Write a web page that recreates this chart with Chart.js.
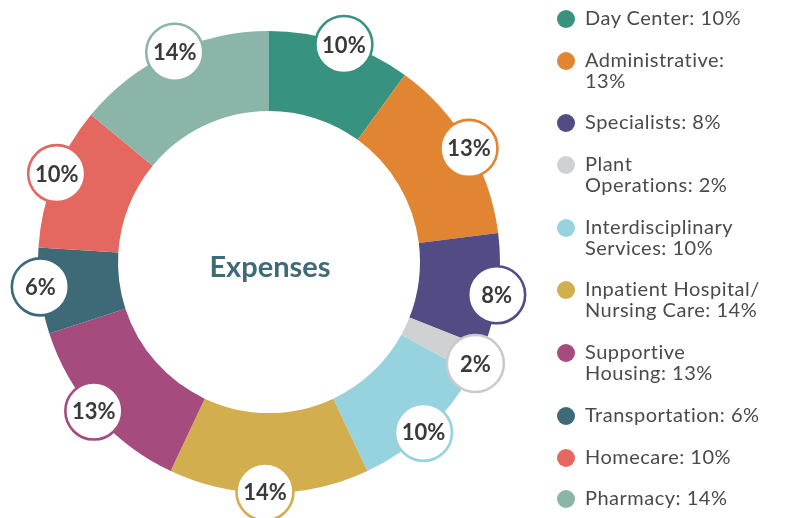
<!DOCTYPE html>
<html>
<head>
<meta charset="utf-8">
<script src="https://cdn.jsdelivr.net/npm/chart.js@4.4.1/dist/chart.umd.min.js"></script>
<style>
html,body{margin:0;padding:0;background:#fff;}
#wrap{position:relative;width:807px;height:518px;overflow:hidden;background:#fff;}
#c{position:absolute;left:0;top:0;}
#legend{position:absolute;left:556px;top:7px;font-family:Lato,"Noto Sans",sans-serif;font-size:20px;letter-spacing:0.5px;color:#4a4a4a;}
.item{position:relative;margin-bottom:20.7px;}
.dot{position:absolute;left:0.7px;top:3px;width:18px;height:18px;border-radius:50%;}
.txt{margin-left:29px;line-height:21px;white-space:pre;}
</style>
</head>
<body>
<div id="wrap">
<canvas id="c" width="807" height="518"></canvas>
<div id="legend"></div>
</div>
<script>
// ---- data ----
const categories = ["Day Center","Administrative","Specialists","Plant Operations","Interdisciplinary Services","Inpatient Hospital/Nursing Care","Supportive Housing","Transportation","Homecare","Pharmacy"];
const values = [10,13,8,2,10,14,13,6,10,14];
const colors = ["#37937f","#e18533","#534c84","#d0d1d3","#97d3de","#d3ae4e","#a54b7e","#3d6a76","#e4685f","#8cb5a9"];
const labelBorderColors = ["#37937f","#e18533","#534c84","#c9cacc","#97d3de","#d3ae4e","#a54b7e","#3d6a76","#e4685f","#8cb5a9"];
const legendTemplates = ["Day Center: {v}%","Administrative:\n{v}%","Specialists: {v}%","Plant\nOperations: {v}%","Interdisciplinary\nServices: {v}%","Inpatient Hospital/\nNursing Care: {v}%","Supportive\nHousing: {v}%","Transportation: {v}%","Homecare: {v}%","Pharmacy: {v}%"];
const centerTitle = "Expenses";

// ---- legend (HTML, built from the arrays) ----
const legendEl = document.getElementById('legend');
categories.forEach((c,i)=>{
  const item = document.createElement('div'); item.className='item';
  const dot = document.createElement('span'); dot.className='dot'; dot.style.background = colors[i];
  const txt = document.createElement('div'); txt.className='txt';
  txt.textContent = legendTemplates[i].replace('{v}', values[i]);
  item.appendChild(dot); item.appendChild(txt); legendEl.appendChild(item);
});

// ---- chart ----
const CX = 269, CY = 262, R = 231, INNER = 151;
const LABEL_SHIFT = 1*Math.PI/180;

const ringLabels = {
  id:'ringLabels',
  afterDatasetsDraw(chart){
    const ctx = chart.ctx;
    const meta = chart.getDatasetMeta(0);
    let cx=0, cy=0;
    meta.data.forEach((arc,i)=>{
      const p = arc.getProps(['x','y','startAngle','endAngle','outerRadius'], true);
      cx = p.x; cy = p.y;
      const a = (p.startAngle + p.endAngle)/2 + LABEL_SHIFT;
      const r = p.outerRadius - 1;
      const px = p.x + Math.cos(a)*r, py = p.y + Math.sin(a)*r;
      ctx.save();
      ctx.beginPath(); ctx.arc(px,py,28.5,0,Math.PI*2);
      ctx.fillStyle='#ffffff'; ctx.fill();
      ctx.lineWidth=2.6; ctx.strokeStyle=labelBorderColors[i]; ctx.stroke();
      ctx.fillStyle='#3a3a3a'; ctx.font='bold 22px Lato';
      ctx.textAlign='center'; ctx.textBaseline='alphabetic';
      ctx.fillText(values[i]+'%', px, py+8);
      ctx.restore();
    });
    ctx.save();
    ctx.fillStyle='#3f6b78'; ctx.font='bold 29px Lato';
    ctx.textAlign='center'; ctx.textBaseline='alphabetic';
    ctx.fillText(centerTitle, cx+1, cy+15);
    ctx.restore();
  }
};

new Chart(document.getElementById('c'), {
  type:'doughnut',
  data:{
    labels: categories,
    datasets:[{
      data: values,
      backgroundColor: colors,
      borderWidth: 0,
      hoverOffset: 0,
      offset: 0
    }]
  },
  options:{
    responsive:false,
    animation:false,
    events:[],
    cutout: INNER,
    rotation: 0,
    layout:{padding:{left:CX-R, top:CY-R, right:807-(CX+R), bottom:518-(CY+R)}},
    plugins:{legend:{display:false}, tooltip:{enabled:false}}
  },
  plugins:[ringLabels]
});
</script>
</body>
</html>
